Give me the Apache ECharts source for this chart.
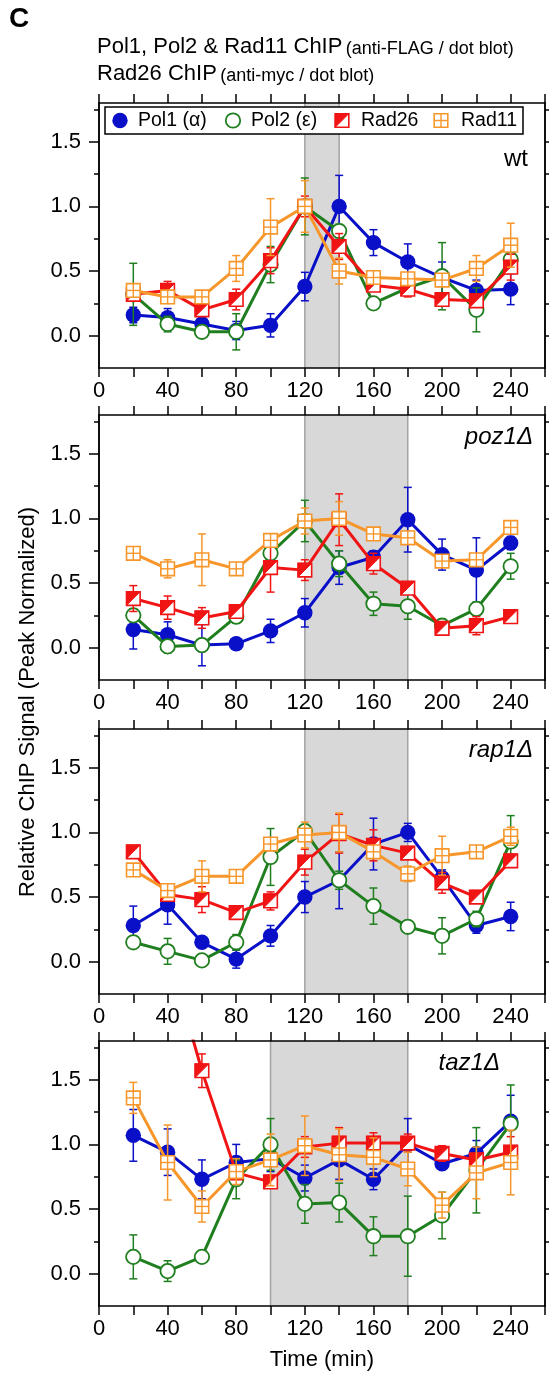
<!DOCTYPE html>
<html>
<head>
<meta charset="utf-8">
<script src="https://cdn.jsdelivr.net/npm/echarts@6/dist/echarts.min.js"></script>
<style>
html,body{margin:0;padding:0;background:#fff;}
#chart{width:549px;height:1376px;}
</style>
</head>
<body>
<div id="chart"></div>
<script>
// ---------- data ----------
const times = [20, 40, 60, 80, 100, 120, 140, 160, 180, 200, 220, 240];
const xLabels = [0, 40, 80, 120, 160, 200, 240];
const yLabels = [0, 0.5, 1.0, 1.5];
const yMinorTicks = [0.25, 0.75, 1.25, 1.75];
const seriesNames = ['Pol1 (α)', 'Pol2 (ε)', 'Rad26', 'Rad11'];
const panelNames = ['wt', 'poz1Δ', 'rap1Δ', 'taz1Δ'];

// wt
const wtPol1 = [0.16, 0.14, 0.09, 0.04, 0.08, 0.38, 1.00, 0.72, 0.57, 0.45, 0.35, 0.36];
const wtPol1Err = [0.06, 0.07, 0.05, 0.07, 0.09, 0.11, 0.24, 0.10, 0.14, 0.12, 0.08, 0.12];
const wtPol2 = [0.32, 0.09, 0.03, 0.03, 0.55, 1.00, 0.81, 0.25, 0.37, 0.46, 0.20, 0.59];
const wtPol2Err = [0.24, 0.06, 0.02, 0.14, 0.14, 0.22, 0.05, 0.03, 0.05, 0.26, 0.17, 0.05];
const wtRad26 = [0.32, 0.35, 0.20, 0.28, 0.58, 1.00, 0.69, 0.39, 0.36, 0.28, 0.27, 0.53];
const wtRad26Err = [0.04, 0.07, 0.04, 0.08, 0.10, 0.08, 0.10, 0.04, 0.06, 0.04, 0.05, 0.10];
const wtRad11 = [0.35, 0.30, 0.30, 0.52, 0.84, 1.00, 0.50, 0.45, 0.44, 0.43, 0.52, 0.70];
const wtRad11Err = [0.05, 0.05, 0.04, 0.10, 0.22, 0.20, 0.10, 0.05, 0.04, 0.04, 0.10, 0.17];
const wtShade = [120, 140];

// poz1Δ
const poz1Pol1 = [0.14, 0.10, 0.02, 0.03, 0.13, 0.27, 0.62, 0.70, 0.99, 0.72, 0.60, 0.81];
const poz1Pol1Err = [0.15, 0.10, 0.16, 0.03, 0.09, 0.11, 0.13, 0.05, 0.25, 0.12, 0.25, 0.05];
const poz1Pol2 = [0.25, 0.01, 0.02, 0.24, 0.73, 0.98, 0.65, 0.34, 0.32, 0.17, 0.30, 0.63];
const poz1Pol2Err = [0.05, 0.05, 0.05, 0.05, 0.05, 0.16, 0.10, 0.09, 0.10, 0.05, 0.05, 0.10];
const poz1Rad26 = [0.38, 0.31, 0.23, 0.28, 0.62, 0.60, 0.99, 0.65, 0.46, 0.15, 0.17, 0.24];
const poz1Rad26Err = [0.10, 0.09, 0.08, 0.04, 0.19, 0.08, 0.20, 0.08, 0.04, 0.03, 0.07, 0.03];
const poz1Rad11 = [0.73, 0.61, 0.68, 0.61, 0.83, 0.98, 1.00, 0.88, 0.85, 0.67, 0.68, 0.93];
const poz1Rad11Err = [0.03, 0.07, 0.20, 0.03, 0.04, 0.10, 0.13, 0.03, 0.05, 0.04, 0.04, 0.04];
const poz1Shade = [120, 180];

// rap1Δ
const rap1Pol1 = [0.28, 0.44, 0.15, 0.02, 0.20, 0.50, 0.63, 0.91, 1.00, 0.65, 0.28, 0.35];
const rap1Pol1Err = [0.15, 0.15, 0.04, 0.07, 0.08, 0.12, 0.22, 0.20, 0.07, 0.06, 0.06, 0.11];
const rap1Pol2 = [0.15, 0.08, 0.01, 0.15, 0.81, 1.01, 0.63, 0.43, 0.27, 0.20, 0.33, 0.93];
const rap1Pol2Err = [0.03, 0.10, 0.03, 0.06, 0.22, 0.05, 0.07, 0.14, 0.03, 0.14, 0.06, 0.20];
const rap1Rad26 = [0.85, 0.52, 0.48, 0.38, 0.47, 0.77, 0.99, 0.90, 0.84, 0.61, 0.50, 0.78];
const rap1Rad26Err = [0.04, 0.04, 0.10, 0.04, 0.07, 0.10, 0.15, 0.12, 0.04, 0.08, 0.04, 0.05];
const rap1Rad11 = [0.71, 0.55, 0.66, 0.66, 0.91, 0.98, 1.00, 0.85, 0.68, 0.82, 0.85, 0.97];
const rap1Rad11Err = [0.04, 0.05, 0.12, 0.03, 0.04, 0.10, 0.15, 0.04, 0.06, 0.15, 0.03, 0.07];
const rap1Shade = [120, 180];

// taz1Δ
const taz1Pol1 = [1.07, 0.94, 0.73, 0.86, 0.89, 0.74, 0.88, 0.73, 1.00, 0.85, 0.93, 1.18];
const taz1Pol1Err = [0.20, 0.18, 0.15, 0.14, 0.10, 0.10, 0.15, 0.08, 0.20, 0.04, 0.10, 0.20];
const taz1Pol2 = [0.13, 0.02, 0.13, 0.73, 1.00, 0.54, 0.55, 0.29, 0.29, 0.45, 0.80, 1.16];
const taz1Pol2Err = [0.17, 0.08, 0.02, 0.15, 0.20, 0.15, 0.15, 0.15, 0.31, 0.18, 0.33, 0.30];
const taz1Rad26 = [2.20, 2.50, 1.57, 0.78, 0.71, 0.98, 1.01, 1.01, 1.01, 0.93, 0.88, 0.94];
const taz1Rad26Err = [0.20, 0.20, 0.13, 0.05, 0.04, 0.08, 0.12, 0.08, 0.07, 0.06, 0.05, 0.12];
const taz1Rad11 = [1.36, 0.86, 0.52, 0.79, 0.88, 0.99, 0.92, 0.90, 0.81, 0.53, 0.78, 0.86];
const taz1Rad11Err = [0.12, 0.29, 0.12, 0.10, 0.20, 0.23, 0.20, 0.15, 0.13, 0.10, 0.20, 0.25];
const taz1Shade = [100, 180];

// ---------- styling ----------
const FONT = 'Liberation Sans, Arial, Helvetica, sans-serif';
const COLORS = ['#0a0fc8', '#1f7f1f', '#f01414', '#f7962a'];
const KINDS = ['filledCircle', 'openCircle', 'halfSquare', 'crossSquare'];
const Y_MIN = -0.25, Y_MAX = 1.8, X_MIN = 0, X_MAX = 260;
const gridTops = [103, 415, 729, 1041];
const GRID_LEFT = 99, GRID_W = 446, GRID_H = 265;

const panels = [
  {vals: [wtPol1, wtPol2, wtRad26, wtRad11], errs: [wtPol1Err, wtPol2Err, wtRad26Err, wtRad11Err], shade: wtShade},
  {vals: [poz1Pol1, poz1Pol2, poz1Rad26, poz1Rad11], errs: [poz1Pol1Err, poz1Pol2Err, poz1Rad26Err, poz1Rad11Err], shade: poz1Shade},
  {vals: [rap1Pol1, rap1Pol2, rap1Rad26, rap1Rad11], errs: [rap1Pol1Err, rap1Pol2Err, rap1Rad26Err, rap1Rad11Err], shade: rap1Shade},
  {vals: [taz1Pol1, taz1Pol2, taz1Rad26, taz1Rad11], errs: [taz1Pol1Err, taz1Pol2Err, taz1Rad26Err, taz1Rad11Err], shade: taz1Shade}
];

function markerShapes(kind, cx, cy, color, z2) {
  const out = [];
  if (kind === 'filledCircle') {
    out.push({type: 'circle', shape: {cx, cy, r: 7.7}, style: {fill: color}, z2});
  } else if (kind === 'openCircle') {
    out.push({type: 'circle', shape: {cx, cy, r: 7.2}, style: {fill: '#fff', stroke: color, lineWidth: 1.8}, z2});
  } else if (kind === 'halfSquare') {
    const h = 6.8;
    out.push({type: 'rect', shape: {x: cx - h, y: cy - h, width: 2 * h, height: 2 * h}, style: {fill: '#fff', stroke: color, lineWidth: 1.6}, z2});
    out.push({type: 'polygon', shape: {points: [[cx - h, cy - h], [cx + h, cy - h], [cx - h, cy + h]]}, style: {fill: color, stroke: color, lineWidth: 1}, z2: z2 + 1});
  } else {
    const h = 6.8;
    out.push({type: 'rect', shape: {x: cx - h, y: cy - h, width: 2 * h, height: 2 * h}, style: {fill: '#fff', stroke: color, lineWidth: 1.6}, z2});
    out.push({type: 'line', shape: {x1: cx - h, y1: cy, x2: cx + h, y2: cy}, style: {stroke: color, lineWidth: 1.4}, z2: z2 + 1});
    out.push({type: 'line', shape: {x1: cx, y1: cy - h, x2: cx, y2: cy + h}, style: {stroke: color, lineWidth: 1.4}, z2: z2 + 1});
  }
  return out;
}

const grids = [], xAxes = [], yAxes = [], series = [];
const axisLineStyle = {color: '#000', width: 1.5};

panels.forEach((pan, p) => {
  grids.push({left: GRID_LEFT, top: gridTops[p], width: GRID_W, height: GRID_H, containLabel: false});
  ['bottom', 'top'].forEach(pos => {
    xAxes.push({
      gridIndex: p, type: 'value', min: X_MIN, max: X_MAX, interval: 20, position: pos, z: 50,
      axisLine: {show: true, onZero: false, lineStyle: axisLineStyle},
      axisTick: {show: true, inside: false, length: 9, lineStyle: axisLineStyle},
      axisLabel: pos === 'bottom'
        ? {show: true, customValues: xLabels, fontSize: 22, fontFamily: FONT, color: '#000', margin: 12}
        : {show: false},
      splitLine: {show: false}
    });
  });
  ['left', 'right'].forEach(pos => {
    [0, 1].forEach(minor => {
      yAxes.push({
        gridIndex: p, type: 'value', min: Y_MIN, max: Y_MAX, position: pos, z: 50,
        axisLine: {show: true, onZero: false, lineStyle: axisLineStyle},
        axisTick: {show: true, inside: false, length: minor ? 5 : 10, customValues: minor ? yMinorTicks : yLabels, lineStyle: axisLineStyle},
        axisLabel: (pos === 'left' && !minor)
          ? {show: true, customValues: yLabels, formatter: v => Number(v).toFixed(1), fontSize: 22, fontFamily: FONT, color: '#000', margin: 18}
          : {show: false},
        splitLine: {show: false}
      });
    });
  });

  // shaded interval
  series.push({
    type: 'custom', xAxisIndex: p * 2, yAxisIndex: p * 4, z: 1, silent: true,
    data: [[pan.shade[0], pan.shade[1]]],
    encode: {x: [0, 1]},
    renderItem: (params, api) => {
      const cs = params.coordSys;
      const a = api.coord([api.value(0), 0])[0];
      const b = api.coord([api.value(1), 0])[0];
      return {type: 'group', children: [
        {type: 'rect', shape: {x: a, y: cs.y, width: b - a, height: cs.height}, style: {fill: '#d8d8d8'}},
        {type: 'line', shape: {x1: a, y1: cs.y, x2: a, y2: cs.y + cs.height}, style: {stroke: '#a3a3a3', lineWidth: 1.5}},
        {type: 'line', shape: {x1: b, y1: cs.y, x2: b, y2: cs.y + cs.height}, style: {stroke: '#a3a3a3', lineWidth: 1.5}}
      ]};
    }
  });

  pan.vals.forEach((vals, s) => {
    const color = COLORS[s];
    const errs = pan.errs[s];
    series.push({
      name: seriesNames[s], type: 'line', xAxisIndex: p * 2, yAxisIndex: p * 4,
      data: times.map((t, i) => [t, vals[i]]),
      symbol: 'none', clip: true, silent: true, z: 10 + s * 3,
      lineStyle: {color, width: 3}
    });
    series.push({
      name: seriesNames[s], type: 'custom', xAxisIndex: p * 2, yAxisIndex: p * 4,
      data: times.map((t, i) => [t, vals[i], errs[i]]),
      encode: {x: 0, y: 1}, clip: true, silent: true, z: 11 + s * 3,
      renderItem: (params, api) => {
        const x = api.value(0), y = api.value(1), e = api.value(2);
        if (y > Y_MAX || y < Y_MIN) return null;
        const c = api.coord([x, y]);
        const t = api.coord([x, Math.min(y + e, Y_MAX)]);
        const b = api.coord([x, y - e]);
        const ls = {stroke: color, lineWidth: 1.5};
        const children = [
          {type: 'line', shape: {x1: c[0], y1: t[1], x2: c[0], y2: b[1]}, style: ls},
          {type: 'line', shape: {x1: c[0] - 4, y1: b[1], x2: c[0] + 4, y2: b[1]}, style: ls}
        ];
        if (y + e <= Y_MAX) children.push({type: 'line', shape: {x1: c[0] - 4, y1: t[1], x2: c[0] + 4, y2: t[1]}, style: ls});
        return {type: 'group', children: children.concat(markerShapes(KINDS[s], c[0], c[1], color, 5))};
      }
    });
  });
});

// ---------- graphics: titles, legend, panel labels ----------
const graphics = [];
graphics.push({type: 'text', x: 9, y: 5, z: 100, style: {text: 'C', font: 'bold 28px ' + FONT, fill: '#000'}});
const richTitle = {a: {fontSize: 22, fontFamily: FONT, lineHeight: 25, verticalAlign: 'bottom'}, b: {fontSize: 18, fontFamily: FONT, lineHeight: 25, verticalAlign: 'bottom'}};
graphics.push({type: 'text', x: 97, y: 33, z: 100, style: {
  text: '{a|Pol1, Pol2 & Rad11 ChIP} {b|(anti-FLAG / dot blot)}', fill: '#000', rich: richTitle
}});
graphics.push({type: 'text', x: 97, y: 60, z: 100, style: {
  text: '{a|Rad26 ChIP} {b|(anti-myc / dot blot)}', fill: '#000', rich: richTitle
}});
graphics.push({type: 'text', x: 28, y: 702, rotation: Math.PI / 2, z: 100, style: {
  text: 'Relative ChIP Signal (Peak Normalized)', font: '22px ' + FONT, fill: '#000', textAlign: 'center', textVerticalAlign: 'middle'
}});
graphics.push({type: 'text', x: 322, y: 1360, z: 100, style: {
  text: 'Time (min)', font: '22px ' + FONT, fill: '#000', textAlign: 'center', textVerticalAlign: 'middle'
}});

// legend
const legY = 120.5;
graphics.push({type: 'rect', z: 100, shape: {x: 105, y: 107, width: 418, height: 27}, style: {fill: '#fff', stroke: '#000', lineWidth: 1.5}});
const legItems = [
  {mx: 120, tx: 138}, {mx: 233, tx: 251}, {mx: 342, tx: 361}, {mx: 441, tx: 461}
];
legItems.forEach((it, s) => {
  markerShapes(KINDS[s], it.mx, legY, COLORS[s], 0).forEach(sh => { sh.z = 101; graphics.push(sh); });
  graphics.push({type: 'text', x: it.tx, y: legY + 0.5, z: 101, style: {
    text: seriesNames[s], font: '19.5px ' + FONT, fill: '#000', textVerticalAlign: 'middle'
  }});
});

// panel labels
const labelPos = [{x: 528, y: 159}, {x: 533, y: 437}, {x: 533, y: 750}, {x: 500, y: 1063}];
panelNames.forEach((nm, p) => {
  graphics.push({type: 'text', x: labelPos[p].x, y: labelPos[p].y, z: 100, style: {
    text: nm, font: (p === 0 ? '' : 'italic ') + '24px ' + FONT, fill: '#000', textAlign: 'right', textVerticalAlign: 'middle'
  }});
});

const chart = echarts.init(document.getElementById('chart'), null, {renderer: 'canvas'});
chart.setOption({
  animation: false,
  backgroundColor: '#fff',
  grid: grids,
  xAxis: xAxes,
  yAxis: yAxes,
  series: series,
  graphic: graphics
});
</script>
</body>
</html>
